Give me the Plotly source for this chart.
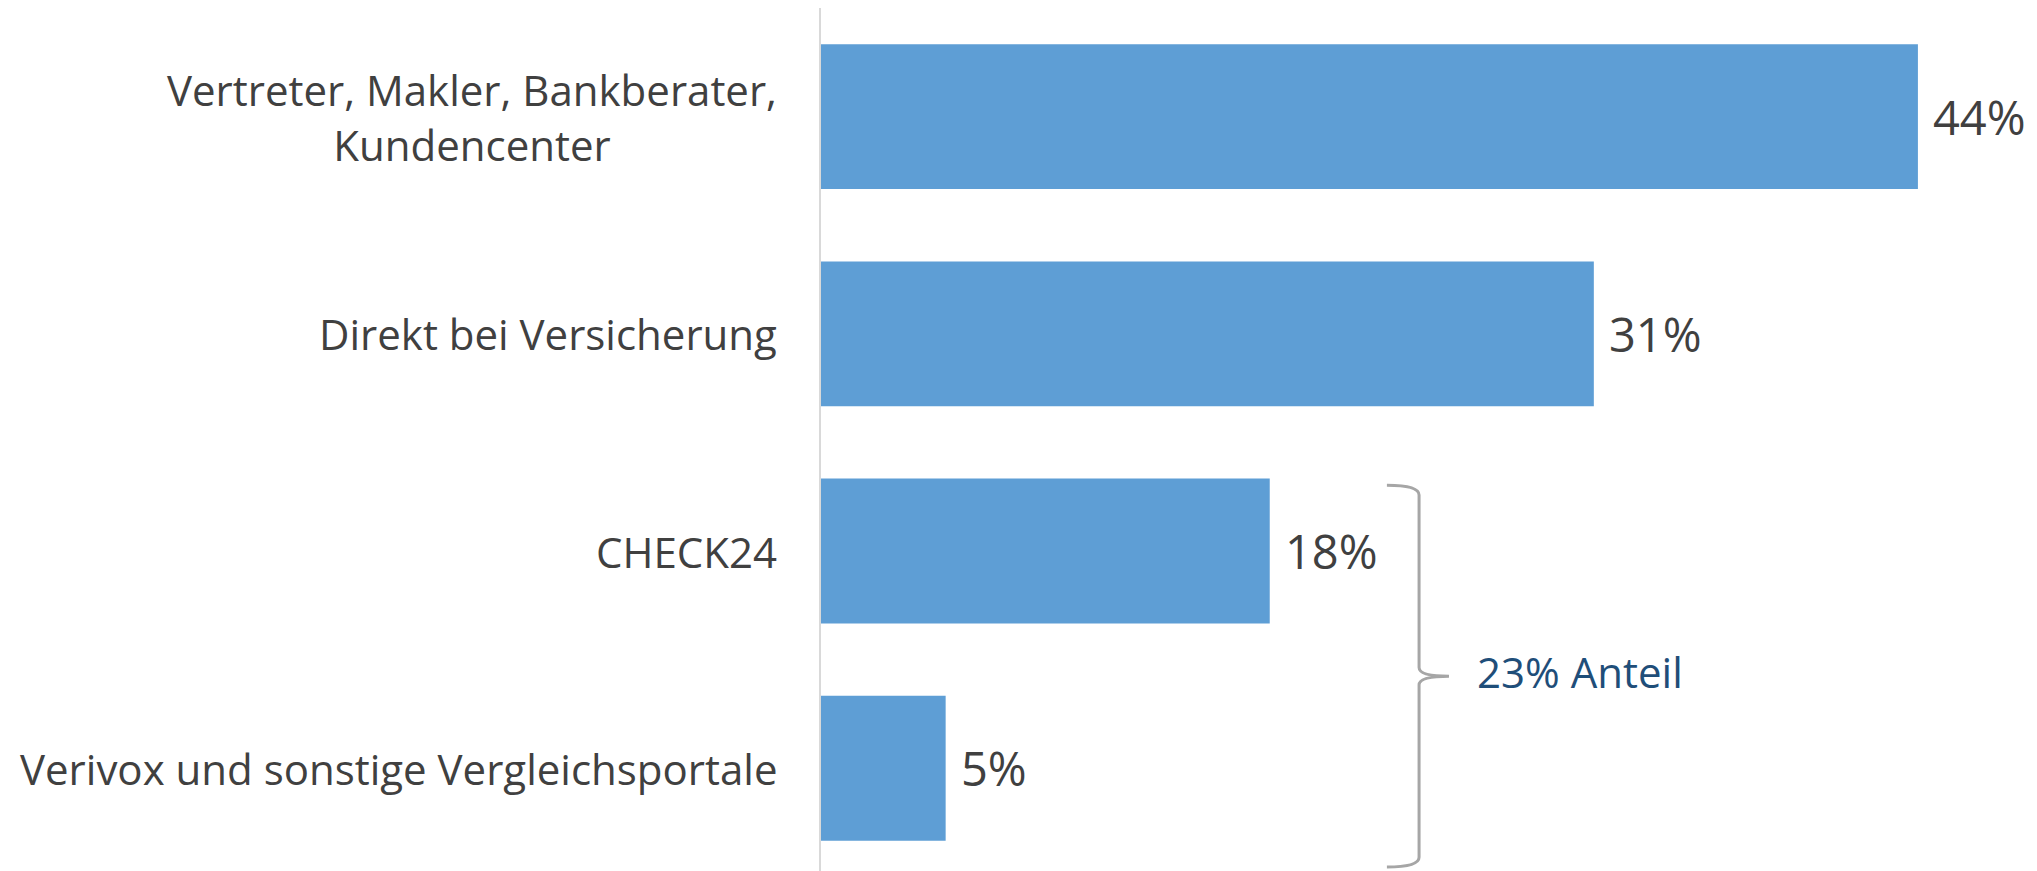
import plotly.graph_objects as go

categories = ["Vertreter, Makler, Bankberater,<br>Kundencenter", "Direkt bei Versicherung",
              "CHECK24", "Verivox und sonstige Vergleichsportale"]
values = [44, 31, 18, 5]
group_label = "Anteil"

BAR_COLOR = "#5E9ED5"
TEXT_COLOR = "#404040"
BRACE_COLOR = "#A6A6A6"
GROUP_COLOR = "#1F4E79"
FONT = "Open Sans"

W, H = 2029, 863
L = 813
PX_PER_UNIT = 24.93
xmax = (W - L) / PX_PER_UNIT
ypos = list(range(len(categories)))

fig = go.Figure()
fig.add_trace(go.Bar(
    x=values, y=ypos, orientation="h", width=0.667,
    marker=dict(color=BAR_COLOR, line=dict(width=0)),
    hoverinfo="skip",
))

ann = []
for i, (c, v) in enumerate(zip(categories, values)):
    ann.append(dict(x=-42 / (W - L), xref="paper", y=i, yref="y", text=c, showarrow=False,
                    xanchor="right", yanchor="middle", align="center",
                    font=dict(family=FONT, size=42, color=TEXT_COLOR)))
    ann.append(dict(x=v, y=i, xref="x", yref="y", text=f"{v}%", showarrow=False,
                    xanchor="left", yanchor="middle", xshift=13,
                    font=dict(family=FONT, size=47, color=TEXT_COLOR)))

# brace grouping the comparison portals (last two categories)
g0, g1 = 2, 3
bx0 = 22.70
bx = 23.99
btip = 25.19
top = 1.697
bot = 3.455
mid = (top + bot) / 2
path = (f"M {bx0},{top} Q {bx},{top} {bx},{top+0.045} "
        f"L {bx},{mid-0.04} Q {bx},{mid} {btip},{mid} "
        f"Q {bx},{mid} {bx},{mid+0.04} "
        f"L {bx},{bot-0.045} Q {bx},{bot} {bx0},{bot}")
fig.add_shape(type="path", path=path, xref="x", yref="y",
              line=dict(color=BRACE_COLOR, width=3))
ann.append(dict(x=26.25, y=mid - 0.02, xref="x", yref="y",
                text=f"{values[g0] + values[g1]}% {group_label}", showarrow=False,
                xanchor="left", yanchor="middle",
                font=dict(family=FONT, size=42, color=GROUP_COLOR)))

fig.update_layout(
    width=W, height=H,
    margin=dict(l=L, r=0, t=0, b=0),
    plot_bgcolor="white", paper_bgcolor="white",
    showlegend=False,
    annotations=ann,
    xaxis=dict(range=[0, xmax], showgrid=False, zeroline=False, showticklabels=False,
               showline=False),
    yaxis=dict(range=[3.473, -0.5], showgrid=False, zeroline=False, showticklabels=False,
               showline=True, linecolor="#D9D9D9", linewidth=2),
)

fig.write_html("out.html")
